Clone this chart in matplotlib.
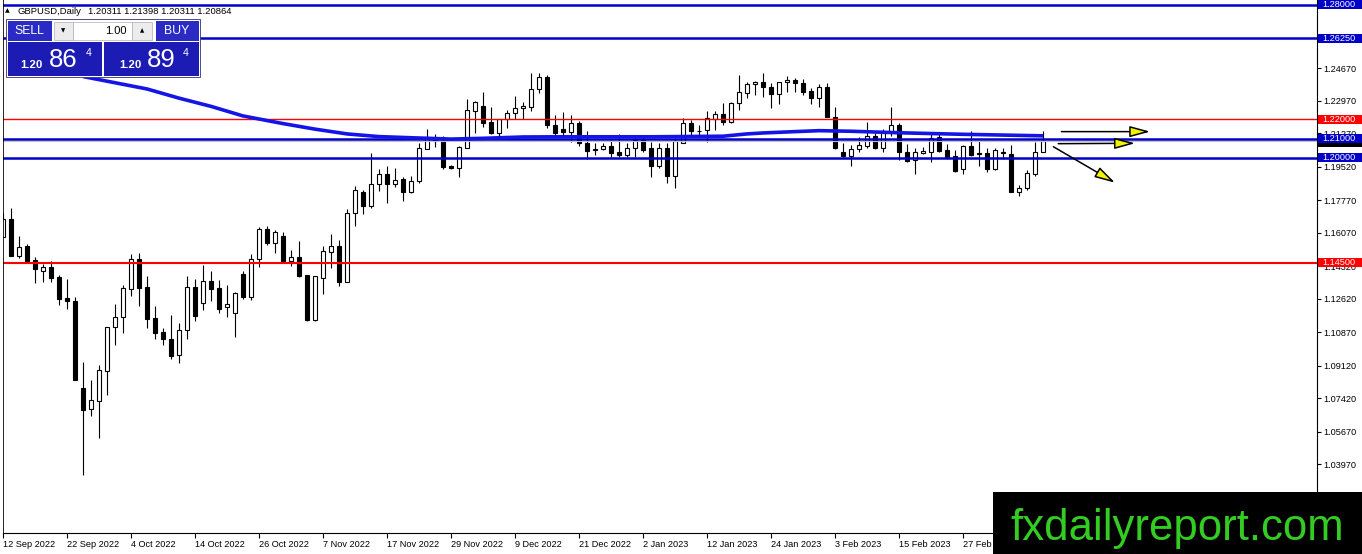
import numpy as np
import matplotlib
matplotlib.use('Agg')
import matplotlib.pyplot as plt
from matplotlib.patches import Rectangle
from matplotlib.transforms import blended_transform_factory

plt.rcParams['font.family'] = ['Liberation Sans', 'DejaVu Sans']

# GBPUSD daily bars, one per weekday from 12 Sep 2022
opens = [1.1585, 1.1679, 1.1486, 1.1538, 1.1465, 1.1408, 1.1428, 1.1376, 1.1266, 1.1251,
         1.0796, 1.0686, 1.0728, 1.0885, 1.1115, 1.1167, 1.1313, 1.1470, 1.1324, 1.1162,
         1.1089, 1.1052, 1.0968, 1.1099, 1.1324, 1.1240, 1.1355, 1.1319, 1.1219, 1.1188,
         1.1392, 1.1272, 1.1470, 1.1627, 1.1554, 1.1590, 1.1460, 1.1481, 1.1387, 1.1151,
         1.1371, 1.1507, 1.1538, 1.1350, 1.1711, 1.1820, 1.1747, 1.1862, 1.1915, 1.1862,
         1.1888, 1.1820, 1.1878, 1.2045, 1.2097, 1.2087, 1.1956, 1.1946, 1.2050, 1.2244,
         1.2270, 1.2186, 1.2129, 1.2202, 1.2233, 1.2259, 1.2265, 1.2359, 1.2421, 1.2171,
         1.2150, 1.2134, 1.2181, 1.2077, 1.2045, 1.2045, 1.2061, 1.2030, 1.2014, 1.2050,
         1.2092, 1.2050, 1.1956, 1.2050, 1.1904, 1.2077, 1.2181, 1.2137, 1.2145, 1.2202,
         1.2228, 1.2186, 1.2286, 1.2338, 1.2385, 1.2395, 1.2369, 1.2333, 1.2395, 1.2406,
         1.2390, 1.2348, 1.2312, 1.2369, 1.2212, 1.2030, 1.2009, 1.2045, 1.2061, 1.2113,
         1.2050, 1.2134, 1.2171, 1.2030, 1.1988, 1.2024, 1.2030, 1.2108, 1.2040, 1.2009,
         1.1941, 1.2061, 1.2024, 1.2024, 1.1941, 1.2030, 1.2019, 1.1820, 1.1841, 1.1915,
         1.20311]
highs = [1.1711, 1.1737, 1.1590, 1.1549, 1.1481, 1.1444, 1.1460, 1.1387, 1.1366, 1.1272,
         1.0932, 1.0838, 1.0916, 1.1115, 1.1235, 1.1334, 1.1496, 1.1502, 1.1381, 1.1225,
         1.1110, 1.1177, 1.1136, 1.1381, 1.1366, 1.1439, 1.1408, 1.1360, 1.1334, 1.1298,
         1.1408, 1.1496, 1.1637, 1.1643, 1.1622, 1.1611, 1.1517, 1.1564, 1.1387, 1.1381,
         1.1538, 1.1601, 1.1570, 1.1732, 1.1852, 1.1831, 1.2024, 1.1941, 1.1956, 1.1946,
         1.1899, 1.1904, 1.2077, 1.2150, 1.2124, 1.2113, 1.1962, 1.2061, 1.2307, 1.2296,
         1.2343, 1.2265, 1.2202, 1.2249, 1.2322, 1.2291, 1.2442, 1.2442, 1.2432, 1.2223,
         1.2239, 1.2223, 1.2192, 1.2139, 1.2077, 1.2077, 1.2092, 1.2124, 1.2077, 1.2113,
         1.2113, 1.2082, 1.2077, 1.2077, 1.2103, 1.2207, 1.2197, 1.2171, 1.2244, 1.2244,
         1.2286, 1.2291, 1.2432, 1.2395, 1.2401, 1.2442, 1.2390, 1.2395, 1.2427, 1.2416,
         1.2411, 1.2364, 1.2385, 1.2390, 1.2265, 1.2077, 1.2066, 1.2108, 1.2186, 1.2134,
         1.2150, 1.2265, 1.2181, 1.2071, 1.2050, 1.2056, 1.2134, 1.2124, 1.2071, 1.2040,
         1.2066, 1.2139, 1.2087, 1.2050, 1.2050, 1.2050, 1.2066, 1.1857, 1.1935, 1.2082,
         1.21398]
lows = [1.1585, 1.1486, 1.1475, 1.1460, 1.1345, 1.1350, 1.1350, 1.1230, 1.1209, 1.0838,
        1.0341, 1.0650, 1.0535, 1.0759, 1.1021, 1.1083, 1.1277, 1.1225, 1.1110, 1.1052,
        1.1021, 1.0948, 1.0927, 1.1052, 1.1146, 1.1204, 1.1251, 1.1188, 1.1167, 1.1062,
        1.1261, 1.1256, 1.1428, 1.1543, 1.1502, 1.1455, 1.1434, 1.1376, 1.1146, 1.1146,
        1.1287, 1.1423, 1.1329, 1.1350, 1.1643, 1.1705, 1.1737, 1.1826, 1.1763, 1.1847,
        1.1773, 1.1815, 1.1867, 1.2045, 1.2056, 1.1941, 1.1941, 1.1899, 1.2050, 1.2129,
        1.2160, 1.2124, 1.2108, 1.2155, 1.2202, 1.2202, 1.2244, 1.2338, 1.2155, 1.2118,
        1.2118, 1.2082, 1.2061, 1.1993, 1.2014, 1.2040, 1.2003, 1.2003, 1.2003, 1.2003,
        1.2030, 1.1899, 1.1946, 1.1867, 1.1841, 1.2077, 1.2113, 1.2108, 1.2082, 1.2145,
        1.2171, 1.2181, 1.2249, 1.2312, 1.2327, 1.2317, 1.2259, 1.2280, 1.2343, 1.2343,
        1.2327, 1.2280, 1.2265, 1.2212, 1.2045, 1.2003, 1.1956, 1.2030, 1.2050, 1.2045,
        1.2030, 1.2113, 1.1988, 1.1977, 1.1915, 1.2019, 1.1977, 1.2030, 1.1993, 1.1925,
        1.1915, 1.2009, 1.1956, 1.1925, 1.1935, 1.1993, 1.1820, 1.1800, 1.1831, 1.1904,
        1.20311]
closes = [1.1679, 1.1486, 1.1533, 1.1460, 1.1418, 1.1428, 1.1371, 1.1261, 1.1251, 1.0838,
          1.0681, 1.0733, 1.0890, 1.1115, 1.1167, 1.1319, 1.1470, 1.1319, 1.1157, 1.1083,
          1.1052, 1.0963, 1.1099, 1.1324, 1.1172, 1.1355, 1.1313, 1.1209, 1.1235, 1.1292,
          1.1272, 1.1470, 1.1627, 1.1554, 1.1611, 1.1460, 1.1481, 1.1381, 1.1151, 1.1381,
          1.1512, 1.1538, 1.1350, 1.1711, 1.1831, 1.1747, 1.1862, 1.1915, 1.1862, 1.1883,
          1.1820, 1.1878, 1.2050, 1.2108, 1.2087, 1.1951, 1.1946, 1.2056, 1.2249, 1.2291,
          1.2181, 1.2129, 1.2202, 1.2233, 1.2259, 1.2270, 1.2359, 1.2421, 1.2171, 1.2129,
          1.2134, 1.2181, 1.2077, 1.2035, 1.2040, 1.2061, 1.2024, 1.2014, 1.2050, 1.2092,
          1.2040, 1.1956, 1.2050, 1.1904, 1.2087, 1.2181, 1.2139, 1.2139, 1.2207, 1.2228,
          1.2186, 1.2286, 1.2343, 1.2385, 1.2395, 1.2369, 1.2333, 1.2395, 1.2406, 1.2390,
          1.2343, 1.2312, 1.2369, 1.2212, 1.2050, 1.2009, 1.2045, 1.2066, 1.2113, 1.2050,
          1.2129, 1.2171, 1.2030, 1.1982, 1.2030, 1.2035, 1.2103, 1.2035, 1.2003, 1.1930,
          1.2061, 1.2014, 1.2019, 1.1941, 1.2040, 1.2024, 1.1820, 1.1841, 1.1920, 1.2030,
          1.20864]

# moving average, read at a few bars along the curve
ma_bars = [10, 18, 22, 26, 30, 35, 39, 43, 47, 51, 56, 60, 65, 70, 77, 81, 90, 93, 95,
           99, 102, 106, 112, 120, 125, 130]
ma_vals = [1.2424, 1.2359, 1.2311, 1.2268, 1.2218, 1.2178, 1.2149, 1.2124, 1.2110, 1.2104,
           1.2097, 1.2101, 1.2108, 1.2109, 1.2109, 1.2109, 1.2112, 1.2124, 1.2129, 1.2136,
           1.2141, 1.2138, 1.2130, 1.2122, 1.2118, 1.2114]

date_labels = ['12 Sep 2022', '22 Sep 2022', '4 Oct 2022', '14 Oct 2022', '26 Oct 2022',
               '7 Nov 2022', '17 Nov 2022', '29 Nov 2022', '9 Dec 2022', '21 Dec 2022',
               '2 Jan 2023', '12 Jan 2023', '24 Jan 2023', '3 Feb 2023', '15 Feb 2023',
               '27 Feb 2023']
price_ticks = [1.2467, 1.2297, 1.2127, 1.1952, 1.1777, 1.1607, 1.1432, 1.1262, 1.1087,
               1.0912, 1.0742, 1.0567, 1.0397]

blue_levels = [1.2800, 1.2625, 1.2100, 1.2000]
red_levels = [1.2200, 1.1450]
bid_price = 1.20864

# hand-drawn arrows (bar index, price)
arrow_tails = [(132.3, 1.2136), (131.9, 1.2073), (131.3, 1.2057)]
arrow_heads = [(143.4, 1.2136), (141.5, 1.2075), (139.0, 1.1869)]

W, H = 1362, 554
LINE_BLUE = '#0000c8'
MA_BLUE = '#1414e6'
RED = '#ff0000'

fig = plt.figure(figsize=(W / 100, H / 100), dpi=100)
ax = fig.add_axes([2.5 / W, 20.7 / H, 1314.2 / W, 533.3 / H])
ax.set_xlim(-0.0625, 164.21)
ax.set_ylim(1.00364, 1.2824)

# candles
idx = np.arange(len(opens))
o = np.array(opens)
c = np.array(closes)
up = c >= o
ax.vlines(idx, lows, highs, color='black', lw=0.8, zorder=2)
ax.bar(idx, np.abs(c - o), bottom=np.minimum(o, c), width=0.55,
       color=np.where(up, 'white', 'black'), edgecolor='black', linewidth=0.8, zorder=3)

# horizontal levels
ax.axhline(bid_price, color='#c0c0c0', lw=0.8, zorder=4)
for lv in blue_levels:
    ax.axhline(lv, color=LINE_BLUE, lw=1.8, zorder=4)
ax.axhline(red_levels[0], color=RED, lw=1.0, zorder=4)
ax.axhline(red_levels[1], color=RED, lw=1.5, zorder=4)

# moving average
ax.plot(ma_bars, ma_vals, color=MA_BLUE, lw=2.6, zorder=5, solid_capstyle='butt')

# arrows
for tail, head in zip(arrow_tails, arrow_heads):
    ax.annotate('', xy=head, xytext=tail,
                arrowprops=dict(arrowstyle='-|>,head_length=1.25,head_width=0.34',
                                mutation_scale=10, fc='#f2f200', ec='black', lw=1.1,
                                shrinkA=0, shrinkB=0),
                zorder=6)

# axes and ticks
for side in ['top', 'left']:
    ax.spines[side].set_visible(False)
ax.spines['bottom'].set_linewidth(0.8)
ax.spines['right'].set_linewidth(0.8)
ax.axvline(-0.0625, color='black', lw=1.2, zorder=7)

ax.set_xticks(np.arange(0, 8 * len(date_labels), 8))
ax.set_xticklabels(date_labels, ha='left')
ax.tick_params(axis='x', length=3.5, width=0.8, pad=1.5, labelsize=6.6)

ax.yaxis.tick_right()
ax.set_yticks(price_ticks)
ax.set_yticklabels([f'{t:.5f}' for t in price_ticks])
ax.tick_params(axis='y', length=3, width=0.8, pad=2, labelsize=6.6)

# price boxes on the right scale
trans = blended_transform_factory(ax.transAxes, ax.transData)
box_h = 0.0047


def price_box(level, text, fc, z):
    ax.add_patch(Rectangle((1.0008, level - box_h / 2), 0.036, box_h, transform=trans,
                           fc=fc, ec='none', clip_on=False, zorder=z))
    if text:
        ax.text(1.004, level, text, transform=trans, ha='left', va='center',
                fontsize=6.6, color='white', clip_on=False, zorder=z + 0.1)


# bid label sits mostly under the 1.21000 box
price_box(bid_price - 0.0006, '', 'black', 8)
for lv in blue_levels:
    price_box(lv, f'{lv:.5f}', LINE_BLUE, 9)
for lv in red_levels:
    price_box(lv, f'{lv:.5f}', RED, 9)

# overlay in image pixels for the trading panel and the watermark
ov = fig.add_axes([0, 0, 1, 1], zorder=10)
ov.set_xlim(0, W)
ov.set_ylim(H, 0)
ov.axis('off')
ov.patch.set_alpha(0)

ov.text(5, 11, '\u25b2', fontsize=4.5, va='center', ha='left', family='DejaVu Sans')
ov.text(18, 11, 'GBPUSD,Daily', fontsize=6.8, va='center', ha='left')
ov.text(88, 11, '1.20311 1.21398 1.20311 1.20864', fontsize=6.8, va='center', ha='left')

PANEL = '#1c1cb4'
BTN = '#2a2ac4'
ov.add_patch(Rectangle((6, 19), 194, 58, fc='white', ec='#303070', lw=0.6))
ov.add_patch(Rectangle((7.5, 21), 44, 19.5, fc=BTN, ec='none'))
ov.text(29.5, 31, 'SELL', fontsize=8.8, color='white', ha='center', va='center')
ov.add_patch(Rectangle((156, 21), 42.5, 19.5, fc=BTN, ec='none'))
ov.text(177, 31, 'BUY', fontsize=8.8, color='white', ha='center', va='center')
ov.add_patch(Rectangle((54, 21.5), 19, 18.5, fc='#ececec', ec='#b0b0b0', lw=0.5))
ov.text(63.5, 30.5, '\u25bc', fontsize=4, ha='center', va='center', family='DejaVu Sans')
ov.add_patch(Rectangle((73, 21.5), 59, 18.5, fc='white', ec='#b0b0b0', lw=0.5))
ov.text(127, 31, '1.00', fontsize=8, ha='right', va='center')
ov.add_patch(Rectangle((132, 21.5), 20, 18.5, fc='#ececec', ec='#b0b0b0', lw=0.5))
ov.text(142, 30.5, '\u25b2', fontsize=4, ha='center', va='center', family='DejaVu Sans')

for x0, big, xs, xb, xp in [(7.5, '86', 20.5, 49, 86), (104, '89', 119, 146.5, 182.5)]:
    ov.add_patch(Rectangle((x0, 42), 94.5, 34, fc=PANEL, ec='none'))
    ov.text(xs, 68.5, '1.20', fontsize=8.2, color='white', ha='left', va='baseline',
            fontweight='bold')
    ov.text(xb, 67, big, fontsize=18.5, color='white', ha='left', va='baseline')
    ov.text(xp, 47.5, '4', fontsize=7.5, color='white', ha='left', va='top')

# watermark
ov.add_patch(Rectangle((992.7, 491.7), W - 992.7, H - 491.7, fc='black', ec='none'))
ov.text(1010, 540, 'fxdailyreport.com', fontsize=31.5, color='#33cc22', ha='left',
        va='baseline', family='Liberation Sans')

fig.savefig('out.png', dpi=100)
